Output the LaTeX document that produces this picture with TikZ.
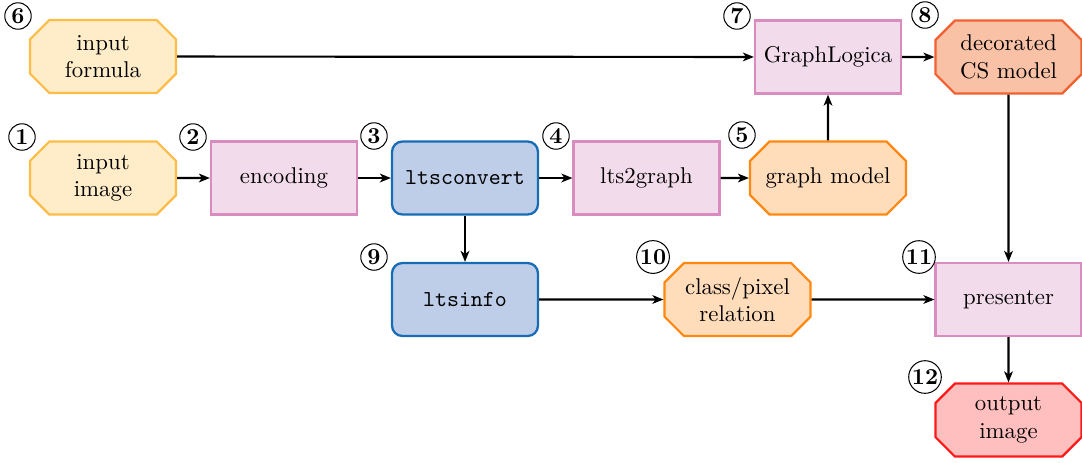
\documentclass[tikz,border=0pt]{standalone}
\usetikzlibrary{shapes.misc,arrows.meta}

\definecolor{yelfill}{RGB}{255,236,200}
\definecolor{yelline}{RGB}{252,188,72}
\definecolor{pinkfill}{RGB}{242,219,234}
\definecolor{pinkline}{RGB}{216,140,192}
\definecolor{bluefill}{RGB}{190,206,233}
\definecolor{blueline}{RGB}{24,108,182}
\definecolor{orafill}{RGB}{255,221,187}
\definecolor{oraline}{RGB}{255,136,16}
\definecolor{decfill}{RGB}{249,194,166}
\definecolor{decline}{RGB}{240,96,48}
\definecolor{redfill}{RGB}{255,191,191}
\definecolor{redline}{RGB}{255,24,24}

\tikzset{
  box/.style={minimum width=64pt, minimum height=32pt, line width=1pt,
    align=center, inner sep=2pt},
  procbox/.style={box, rectangle, draw=pinkline, fill=pinkfill},
  toolbox/.style={box, rectangle, rounded corners=4.5pt, draw=blueline,
    fill=bluefill, font=\ttfamily},
  databox/.style={box, chamfered rectangle, chamfered rectangle xsep=5.6pt,
    inner xsep=1.2pt},
  inbox/.style={databox, draw=yelline, fill=yelfill},
  midbox/.style={databox, draw=oraline, fill=orafill},
  decbox/.style={databox, draw=decline, fill=decfill},
  outbox/.style={databox, draw=redline, fill=redfill},
  numlabel/.style={circle, draw, line width=0.45pt, inner sep=0.4pt,
    minimum size=11.6pt, font=\bfseries},
  arr/.style={-{Stealth[length=4.8pt,width=3.8pt,inset=1.3pt]}, line width=0.95pt}
}

\begin{document}
\begin{tikzpicture}[x=0.4386pt, y=-0.4386pt]
  \useasboundingbox (0,0) rectangle (1082,462);

  % pipeline stages
  \node[inbox]   (formula)   at (103,56.5)   {input\\formula};
  \node[inbox]   (image)     at (103,178)    {input\\image};
  \node[procbox] (encoding)  at (284,178)    {encoding};
  \node[toolbox] (convert)   at (465,178)    {ltsconvert};
  \node[procbox] (lts2graph) at (646.5,178)  {lts2graph};
  \node[midbox]  (gmodel)    at (828,178)    {graph model};
  \node[procbox] (logica)    at (828,57)     {GraphLogica};
  \node[decbox]  (decorated) at (1008.5,57)  {decorated\\CS model};
  \node[toolbox] (info)      at (465,299.5)  {ltsinfo};
  \node[midbox]  (relation)  at (737.5,299.5){class/pixel\\relation};
  \node[procbox] (presenter) at (1008.5,299.5){presenter};
  \node[outbox]  (output)    at (1008.5,420) {output\\image};

  % step numbers
  \node[numlabel] (n1)  at (22,137)  {1};
  \node[numlabel] (n2)  at (193,137) {2};
  \node[numlabel] (n3)  at (374,136) {3};
  \node[numlabel] (n4)  at (556,136) {4};
  \node[numlabel] (n5)  at (742,135) {5};
  \node[numlabel] (n6)  at (18,16)   {6};
  \node[numlabel] (n7)  at (737,16)  {7};
  \node[numlabel] (n8)  at (925,15)  {8};
  \node[numlabel] (n9)  at (374,257) {9};
  \node[numlabel] (n10) at (653,257) {10};
  \node[numlabel] (n11) at (919,257) {11};
  \node[numlabel] (n12) at (925,377) {12};

  % data flow
  \draw[arr] (formula) -- (logica);
  \draw[arr] (image) -- (encoding);
  \draw[arr] (encoding) -- (convert);
  \draw[arr] (convert) -- (lts2graph);
  \draw[arr] (lts2graph) -- (gmodel);
  \draw[arr] (gmodel) -- (logica);
  \draw[arr] (logica) -- (decorated);
  \draw[arr] (decorated) -- (presenter);
  \draw[arr] (convert) -- (info);
  \draw[arr] (info) -- (relation);
  \draw[arr] (relation) -- (presenter);
  \draw[arr] (presenter) -- (output);
\end{tikzpicture}
\end{document}
